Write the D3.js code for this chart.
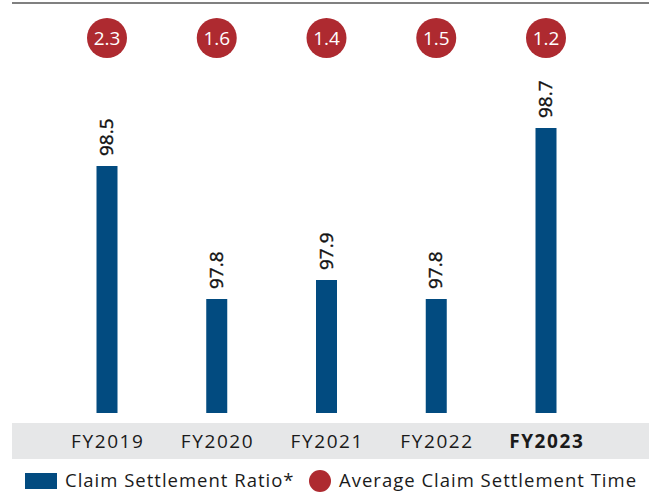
<!DOCTYPE html>
<html>
<head>
<meta charset="utf-8">
<script src="https://cdn.jsdelivr.net/npm/d3@7"></script>
<style>
  body { margin: 0; background: #fff; }
  text { font-family: "Open Sans", sans-serif; }
</style>
</head>
<body>
<svg width="649" height="493"></svg>
<script>
var years = ["FY2019", "FY2020", "FY2021", "FY2022", "FY2023"];
var ratio = [98.5, 97.8, 97.9, 97.8, 98.7];
var avgTime = [2.3, 1.6, 1.4, 1.5, 1.2];

var svg = d3.select("svg");
var blue = "#024b80";
var red = "#ae2a30";

var x = d3.scalePoint()
  .domain(years)
  .range([107, 546]);

var y = d3.scaleLinear()
  .domain([97.2, 98.7])
  .range([413, 128]);

// top rule
svg.append("line")
  .attr("x1", 12).attr("x2", 649)
  .attr("y1", 3).attr("y2", 3)
  .attr("stroke", "#808080")
  .attr("stroke-width", 2);

// grey band behind the year labels
svg.append("rect")
  .attr("x", 12).attr("y", 423)
  .attr("width", 637).attr("height", 36)
  .attr("fill", "#e6e7e8");

var bw = 21;
svg.append("g").selectAll("rect")
  .data(ratio).enter()
  .append("rect")
  .attr("fill", blue)
  .attr("x", function(d, i) { return x(years[i]) - bw / 2; })
  .attr("y", function(d) { return y(d); })
  .attr("width", bw)
  .attr("height", function(d) { return y.range()[0] - y(d); });

// value labels, rotated
svg.append("g").selectAll("text")
  .data(ratio).enter()
  .append("text")
  .attr("transform", function(d, i) {
    return "translate(" + (x(years[i]) + 6) + "," + (y(d) - 10) + ") rotate(-90)";
  })
  .attr("font-family", "'Liberation Sans', Arial, sans-serif")
  .attr("font-size", 19)
  .attr("fill", "#111")
  .attr("stroke", "#111")
  .attr("stroke-width", 0.4)
  .text(function(d) { return d.toFixed(1); });

// average settlement time bubbles
var bub = svg.append("g").selectAll("g")
  .data(avgTime).enter()
  .append("g")
  .attr("transform", function(d, i) { return "translate(" + x(years[i]) + ",38)"; });
bub.append("circle").attr("r", 20).attr("fill", red);
bub.append("text")
  .attr("text-anchor", "middle")
  .attr("dy", "0.35em")
  .attr("font-size", 19)
  .attr("fill", "#fff")
  .text(function(d) { return d.toFixed(1); });

// year labels
svg.append("g").selectAll("text")
  .data(years).enter()
  .append("text")
  .attr("x", function(d) { return x(d) + 0.8; })
  .attr("y", 448)
  .attr("text-anchor", "middle")
  .attr("font-size", 19)
  .attr("letter-spacing", 1.6)
  .attr("font-weight", function(d, i) { return i === years.length - 1 ? "bold" : "normal"; })
  .attr("fill", "#1a1a1a")
  .text(function(d) { return d; });

// legend
var lg = svg.append("g");
lg.append("rect")
  .attr("x", 25).attr("y", 473)
  .attr("width", 32).attr("height", 16)
  .attr("fill", blue);
lg.append("text")
  .attr("x", 65).attr("y", 487)
  .attr("font-size", 18.5)
  .attr("letter-spacing", 1)
  .attr("fill", "#1a1a1a")
  .text("Claim Settlement Ratio*");
lg.append("circle")
  .attr("cx", 320).attr("cy", 481).attr("r", 11)
  .attr("fill", red);
lg.append("text")
  .attr("x", 339).attr("y", 487)
  .attr("font-size", 18.5)
  .attr("letter-spacing", 1)
  .attr("fill", "#1a1a1a")
  .text("Average Claim Settlement Time");
</script>
</body>
</html>
